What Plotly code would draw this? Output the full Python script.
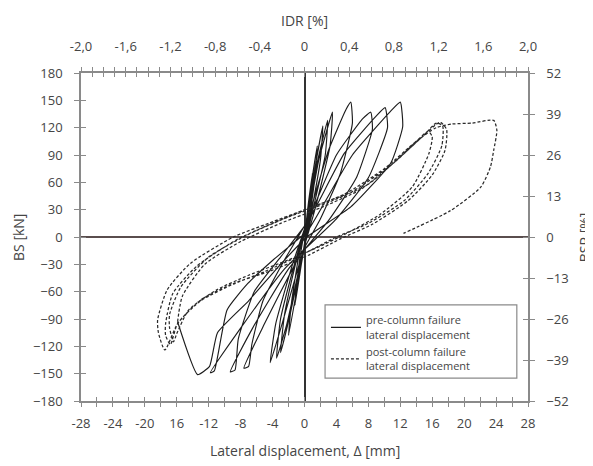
import numpy as np
import plotly.graph_objects as go

# ---------------- data ----------------
# pre-column-failure hysteresis path: lateral displacement [mm], base shear [kN]
pre_disp = [0.0,
            0.5, 1.0, 0.75, 0.25, -0.4, -1.2, -0.9, -0.3, 0.1,
            0.8, 1.6, 1.3, 0.5, -0.6, -2.0, -1.6, -0.6, 0.2,
            1.2, 2.3, 2.0, 0.8, -0.6, -1.8, -3.0, -2.5, -1.0, 0.3,
            1.5, 2.9, 2.6, 1.0, -0.8, -2.2, -3.5, -3.0, -1.2, 0.4,
            1.8, 3.5, 3.2, 1.3, -1.0, -2.8, -4.3, -3.6, -1.5, 0.5,
            3.0, 5.2, 5.8, 6.0, 4.5, 2.0, -1.5, -5.0, -7.6, -7.0, -6.6, -5.2, -2.5, 0.5,
            4.0, 7.3, 8.3, 8.5, 6.5, 3.0, -2.0, -6.5, -9.3, -8.7, -8.3, -6.3, -3.0, 0.5,
            5.0, 9.0, 10.1, 10.4, 8.0, 4.0, -2.5, -8.0, -11.8, -11.3, -9.7, -7.1, -3.9, -0.5, 0.5,
            6.0, 11.0, 12.0, 12.3, 10.8, 5.8, 0.3, -3.0, -7.0, -10.9, -11.9, -13.4, -15.9]
pre_force = [0,
             38, 70, 42, 8, -30, -75, -45, -8, 8,
             55, 100, 65, 15, -40, -108, -70, -15, 12,
             70, 122, 85, 25, -35, -85, -127, -85, -25, 18,
             78, 128, 90, 28, -40, -95, -133, -90, -28, 20,
             85, 137, 100, 30, -40, -95, -138, -95, -30, 22,
             95, 140, 148, 125, 70, 20, -35, -95, -144, -142, -118, -70, -25, 20,
             90, 130, 137, 118, 65, 18, -35, -100, -148, -146, -112, -60, -22, 18,
             92, 133, 142, 120, 65, 20, -35, -100, -149, -147, -80, -51, -25, 0, 8,
             90, 140, 148, 121, 81, 33, 0, -30, -70, -105, -142, -151, -93]

# post-column-failure hysteresis path
post_disp = [-15.9,
             -15.3, -12.5, -8.0, -3.0, 2.0, 7.0, 11.0, 14.0, 15.5, 16.0, 15.6,
             13.5, 9.5, 5.5, 2.0, -2.0, -7.0, -11.0, -14.5, -16.0, -16.4, -16.9, -16.9,
             -15.5, -12.0, -7.0, -2.0, 3.0, 8.0, 12.0, 15.0, 16.5, 17.3, 17.2,
             15.5, 12.5, 8.0, 4.0, 0.0, -5.0, -9.0, -13.0, -15.9, -16.8, -17.4, -17.4,
             -16.5, -13.5, -8.5, -3.5, 1.0, 6.0, 11.0, 14.5, 17.0, 17.8, 17.6,
             16.0, 13.0, 8.5, 4.5, 0.5, -4.5, -8.9, -13.0, -15.9, -17.5, -18.3, -18.4,
             -17.2, -14.3, -8.9, -4.5, 0.0, 5.0, 10.0, 14.0, 16.5, 18.5, 21.0, 23.7,
             24.1, 23.7, 23.3, 22.1, 18.3, 12.4]
post_force = [-93,
              -65, -30, -5, 15, 32, 52, 80, 105, 116, 110, 92,
              55, 25, 5, -10, -25, -42, -58, -80, -106, -115, -100, -85,
              -55, -22, 3, 22, 38, 58, 88, 112, 125, 122, 100,
              70, 40, 15, 0, -18, -38, -52, -70, -95, -118, -108, -95,
              -62, -32, -3, 17, 33, 50, 80, 108, 126, 118, 95,
              68, 40, 14, -2, -20, -38, -51, -69, -95, -124, -105, -91,
              -58, -29, 0, 15, 30, 47, 75, 105, 120, 124, 125, 128,
              117, 95, 77, 55, 29, 4]

# tick values / labels
disp_label_vals = [-28, -24, -20, -16, -12, -8, -4, 0, 4, 8, 12, 16, 20, 24, 28]
disp_label_text = ["-28", "-24", "-20", "16", "-12", "-8", "-4", "0",
                   "4", "8", "12", "16", "20", "24", "28"]
idr_label_vals = [-2.0, -1.6, -1.2, -0.8, -0.4, 0.0, 0.4, 0.8, 1.2, 1.6, 2.0]
idr_label_text = ["-2,0", "-1,6", "-1,2", "-0,8", "-0,4", "0",
                  "0,4", "0,8", "1,2", "1,6", "2,0"]
bs_ticks = [-180, -150, -120, -90, -60, -30, 0, 30, 60, 90, 120, 150, 180]
bsr_ticks = [-52, -39, -26, -13, 0, 13, 26, 39, 52]

# ---------------- tick arrays (labelled + unlabelled minor positions) ----------------
bot_vals = list(np.arange(-28, 29, 2))
bot_map = dict(zip(disp_label_vals, disp_label_text))
bot_text = [bot_map.get(int(v), "") for v in bot_vals]

top_vals = [round(v, 1) for v in np.arange(-2.0, 2.001, 0.1)]
top_map = {round(k, 1): t for k, t in zip(idr_label_vals, idr_label_text)}
top_text = [top_map.get(v, "") for v in top_vals]

AX = "#8a8a8a"
TXT = "#454545"
FONT = "Open Sans"

fig = go.Figure()
fig.add_trace(go.Scatter(
    x=pre_disp, y=pre_force, mode="lines",
    line=dict(color="#1c1c1c", width=1.15, shape="spline", smoothing=0.45),
    name="pre-column failure<br>lateral displacement", hoverinfo="skip"))
fig.add_trace(go.Scatter(
    x=post_disp, y=post_force, mode="lines",
    line=dict(color="#2a2a2a", width=1.25, dash="3px,2px", shape="spline", smoothing=0.6),
    name="post-column failure<br>lateral displacement", hoverinfo="skip"))

# dummy traces so the overlay axes exist
for xa, ya in [("x2", "y"), ("x3", "y"), ("x4", "y"), ("x", "y2"), ("x", "y3"), ("x", "y4")]:
    fig.add_trace(go.Scatter(x=[None], y=[None], xaxis=xa, yaxis=ya,
                             showlegend=False, hoverinfo="skip"))

common = dict(showgrid=False, tickcolor=AX, tickwidth=1, automargin=False,
              tickfont=dict(family=FONT, size=13, color=TXT))

title_font = dict(family=FONT, size=14, color=TXT)

# the page body adds an 8px offset, so the figure is 8px smaller than the window
fig.update_layout(
    width=585, height=458,
    margin=dict(l=73, r=65, t=65, b=65),
    paper_bgcolor="white", plot_bgcolor="white",
    font=dict(family=FONT, size=13, color=TXT),
    xaxis=dict(range=[-28, 28], tickmode="array", tickvals=bot_vals, ticktext=bot_text,
               ticks="outside", ticklen=4, showline=True, linecolor=AX, linewidth=1.5,
               zeroline=True, zerolinecolor="#333333", zerolinewidth=1.5,
               ticklabelstandoff=6, **common),
    xaxis3=dict(range=[-28, 28], overlaying="x", anchor="y", side="bottom",
                tickmode="array", tickvals=bot_vals, ticks="inside", ticklen=4,
                showticklabels=False, zeroline=False, showline=False, **common),
    xaxis2=dict(range=[-2, 2], overlaying="x", anchor="y", side="top",
                tickmode="array", tickvals=top_vals, ticktext=top_text,
                ticks="outside", ticklen=4, showline=True, linecolor=AX, linewidth=1.5,
                zeroline=False, ticklabelstandoff=11, **common),
    xaxis4=dict(range=[-2, 2], overlaying="x", anchor="y", side="top",
                tickmode="array", tickvals=top_vals, ticks="inside", ticklen=4,
                showticklabels=False, zeroline=False, showline=False, **common),
    yaxis=dict(range=[-180, 180], tickmode="array", tickvals=bs_ticks,
               ticks="outside", ticklen=5, showline=True, linecolor=AX, linewidth=1.5,
               zeroline=True, zerolinecolor="#5a4e4e", zerolinewidth=1.5,
               ticklabelstandoff=9, **common),
    yaxis3=dict(range=[-180, 180], overlaying="y", anchor="x", side="left",
                tickmode="array", tickvals=bs_ticks, ticks="inside", ticklen=5,
                showticklabels=False, zeroline=False, showline=False, **common),
    yaxis2=dict(range=[-52, 52], overlaying="y", anchor="x", side="right",
                tickmode="array", tickvals=bsr_ticks, ticks="outside", ticklen=5,
                showline=True, linecolor=AX, linewidth=1.5, zeroline=False,
                ticklabelstandoff=9, **common),
    yaxis4=dict(range=[-52, 52], overlaying="y", anchor="x", side="right",
                tickmode="array", tickvals=bsr_ticks, ticks="inside", ticklen=5,
                showticklabels=False, zeroline=False, showline=False, **common),
    legend=dict(x=0.548, y=0.288, xanchor="left", yanchor="top",
                bgcolor="rgba(0,0,0,0)", borderwidth=0,
                font=dict(family=FONT, size=11, color=TXT),
                tracegroupgap=4, itemwidth=30),
    showlegend=True,
    shapes=[dict(type="rect", xref="paper", yref="paper",
                 x0=0.546, x1=0.975, y0=0.070, y1=0.293,
                 line=dict(color="#8a8a8a", width=1.2), fillcolor="white", layer="below")],
    annotations=[
        dict(text="IDR [%]", xref="paper", yref="paper", x=0.5, y=1.16,
             xanchor="center", yanchor="middle", showarrow=False, font=title_font),
        dict(text="Lateral displacement, \u0394 [mm]", xref="paper", yref="paper",
             x=0.5, y=-0.15, xanchor="center", yanchor="middle", showarrow=False,
             font=title_font),
        dict(text="BS [kN]", xref="paper", yref="paper", x=-0.141, y=0.5,
             xanchor="center", yanchor="middle", textangle=-90, showarrow=False,
             font=title_font),
        dict(text="BSR [%]", xref="paper", yref="paper", x=1.126, y=0.5,
             xanchor="center", yanchor="middle", textangle=-90, showarrow=False,
             font=title_font),
    ],
)

fig.write_html("out.html")
